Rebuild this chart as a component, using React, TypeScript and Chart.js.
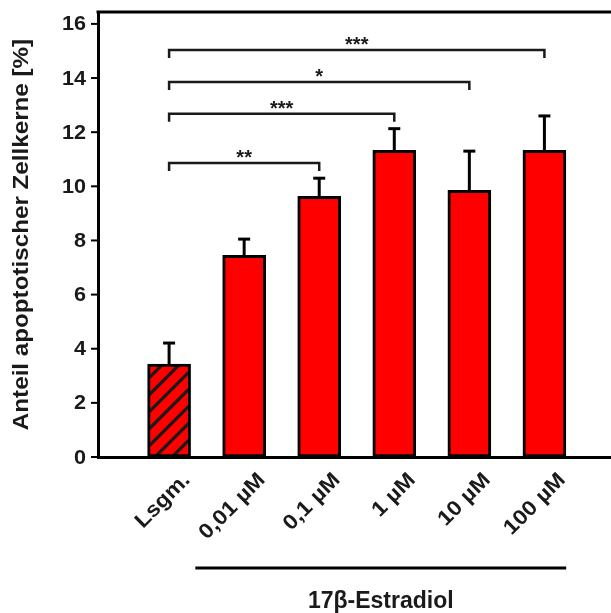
import React, { useEffect, useRef } from 'react';
import { Chart, registerables } from 'chart.js';

Chart.register(...registerables);

const categories = ['Lsgm.', '0,01 µM', '0,1 µM', '1 µM', '10 µM', '100 µM'];
const means = [3.43, 7.45, 9.63, 11.33, 9.85, 11.33];
const sdUpper = [0.78, 0.6, 0.67, 0.8, 1.45, 1.27];
const yTickValues = [0, 2, 4, 6, 8, 10, 12, 14, 16];
const bracketEnds = [2, 3, 4, 5];
const bracketLevels = [10.86, 12.68, 13.85, 15.04];
const bracketStars = ['**', '***', '*', '***'];
const yTitle = 'Anteil apoptotischer Zellkerne [%]';
const groupTitle = '17β-Estradiol';

const FONT = '"Liberation Sans", Arial, Helvetica, sans-serif';
const RED = '#ff0000';

function makeHatch(): CanvasPattern | string {
  const s = 17;
  const c = document.createElement('canvas');
  c.width = s;
  c.height = s;
  const g = c.getContext('2d');
  if (!g) return RED;
  g.fillStyle = RED;
  g.fillRect(0, 0, s, s);
  g.strokeStyle = '#1a1a1a';
  g.lineWidth = 3.2;
  g.beginPath();
  g.moveTo(-2, s + 2);
  g.lineTo(s + 2, -2);
  g.moveTo(-3, 3);
  g.lineTo(3, -3);
  g.moveTo(s - 3, s + 3);
  g.lineTo(s + 3, s - 3);
  g.stroke();
  const p = g.createPattern(c, 'repeat');
  return p || RED;
}

const overlay = {
  id: 'overlay',
  afterDraw(chart: any) {
    const { ctx, chartArea: a, scales } = chart;
    const x = scales.x;
    const y = scales.y;
    ctx.save();
    ctx.strokeStyle = '#000';
    ctx.fillStyle = '#000';
    ctx.lineCap = 'butt';

    // top frame line
    ctx.lineWidth = 3;
    ctx.beginPath();
    ctx.moveTo(a.left - 1.5, a.top);
    ctx.lineTo(a.right, a.top);
    ctx.stroke();

    // error bars (upper only)
    means.forEach((m, i) => {
      const px = x.getPixelForValue(i);
      const y0 = y.getPixelForValue(m);
      const y1 = y.getPixelForValue(m + sdUpper[i]);
      ctx.lineWidth = 3;
      ctx.beginPath();
      ctx.moveTo(px, y0);
      ctx.lineTo(px, y1);
      ctx.stroke();
      ctx.beginPath();
      ctx.moveTo(px - 6, y1);
      ctx.lineTo(px + 6, y1);
      ctx.stroke();
    });

    // significance brackets
    ctx.strokeStyle = '#1a1a1a';
    ctx.fillStyle = '#1a1a1a';
    bracketEnds.forEach((end, k) => {
      const x0 = x.getPixelForValue(0);
      const x1 = x.getPixelForValue(end);
      const by = y.getPixelForValue(bracketLevels[k]);
      ctx.lineWidth = 2.5;
      ctx.beginPath();
      ctx.moveTo(x0, by + 8);
      ctx.lineTo(x0, by);
      ctx.lineTo(x1, by);
      ctx.lineTo(x1, by + 8);
      ctx.stroke();
      ctx.font = `bold 20px ${FONT}`;
      ctx.textAlign = 'center';
      ctx.textBaseline = 'alphabetic';
      ctx.fillText(bracketStars[k], (x0 + x1) / 2, by + 1);
    });

    ctx.strokeStyle = '#000';
    ctx.fillStyle = '#1a1a1a';

    // y tick marks and labels
    yTickValues.forEach((v) => {
      const py = y.getPixelForValue(v);
      ctx.lineWidth = 2;
      ctx.beginPath();
      ctx.moveTo(a.left - 7, py);
      ctx.lineTo(a.left, py);
      ctx.stroke();
      ctx.save();
      ctx.translate(86, py + 1);
      ctx.scale(1.08, 1);
      ctx.font = `bold 20px ${FONT}`;
      ctx.textAlign = 'right';
      ctx.textBaseline = 'middle';
      ctx.fillText(String(v), 0, 0);
      ctx.restore();
    });

    // x category labels (rotated)
    categories.forEach((lab, i) => {
      const px = x.getPixelForValue(i);
      ctx.save();
      ctx.translate(px + 22, a.bottom + 24);
      ctx.rotate(-Math.PI / 4);
      ctx.scale(1.1, 1);
      ctx.font = `bold 21px ${FONT}`;
      ctx.textAlign = 'right';
      ctx.textBaseline = 'alphabetic';
      ctx.fillText(lab, 0, 0);
      ctx.restore();
    });

    // y axis title
    ctx.save();
    ctx.translate(28, (a.top + a.bottom) / 2);
    ctx.rotate(-Math.PI / 2);
    ctx.scale(1.1, 1);
    ctx.font = `bold 22px ${FONT}`;
    ctx.textAlign = 'center';
    ctx.textBaseline = 'alphabetic';
    ctx.fillText(yTitle, 0, 0);
    ctx.restore();

    // group line + title
    const gx0 = x.getPixelForValue(0.35);
    const gx1 = x.getPixelForValue(5.29);
    ctx.strokeStyle = '#000';
    ctx.lineWidth = 3;
    ctx.beginPath();
    ctx.moveTo(gx0, 568);
    ctx.lineTo(gx1, 568);
    ctx.stroke();
    ctx.font = `bold 23px ${FONT}`;
    ctx.textAlign = 'center';
    ctx.textBaseline = 'alphabetic';
    ctx.fillText(groupTitle, (gx0 + gx1) / 2, 608);

    ctx.restore();
  },
};

export default function App() {
  const ref = useRef<HTMLCanvasElement | null>(null);

  useEffect(() => {
    if (!ref.current) return;
    const hatch = makeHatch();
    const colors = means.map((_, i) => (i === 0 ? hatch : RED));
    const chart = new Chart(ref.current, {
      type: 'bar',
      data: {
        datasets: [
          {
            data: means.map((v, i) => ({ x: i, y: v })),
            backgroundColor: colors as any,
            borderColor: '#000',
            borderWidth: 3,
            borderSkipped: false,
            barThickness: 43,
          } as any,
        ],
      },
      options: {
        animation: false,
        responsive: true,
        maintainAspectRatio: false,
        layout: { padding: { top: 12, left: 0, right: 0, bottom: 0 } },
        plugins: { legend: { display: false }, tooltip: { enabled: false } },
        scales: {
          x: {
            type: 'linear',
            offset: false,
            min: -0.947,
            max: 5.887,
            grid: { display: false, offset: false },
            border: { display: true, color: '#000', width: 3 },
            ticks: { display: false },
            afterFit: (s: any) => {
              s.height = 156;
            },
          },
          y: {
            min: 0,
            max: 16.44,
            grid: { display: false },
            border: { display: true, color: '#000', width: 3 },
            ticks: { display: false },
            afterFit: (s: any) => {
              s.width = 98;
            },
          },
        },
      } as any,
      plugins: [overlay],
    });
    return () => chart.destroy();
  }, []);

  return (
    <div style={{ position: 'fixed', left: 0, top: 0, width: 611, height: 613, background: '#fff' }}>
      <canvas ref={ref} />
    </div>
  );
}
